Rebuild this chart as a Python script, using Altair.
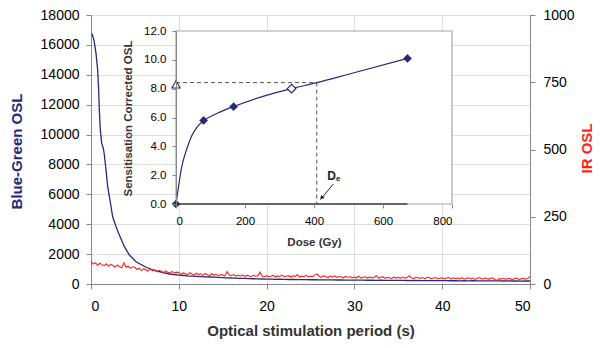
import altair as alt
import pandas as pd

# ---------------- data ----------------
# Blue-green OSL decay curve (left axis, counts)
blue_t = [0.1, 0.34, 0.57, 0.76, 0.87, 0.95, 1.06, 1.22, 1.40, 1.51, 1.71, 1.90, 2.16,
          2.47, 2.85, 3.23, 3.80, 4.37, 5.13, 6.27, 7.40, 8.92, 10.0, 10.5,
          11.0, 11.5, 12.0, 12.5, 13.0, 13.5, 14.0, 14.5, 15.0,
          15.5, 16.0, 16.5, 17.0, 17.5, 18.0, 18.5, 19.0, 19.5, 20.0,
          20.5, 21.0, 21.5, 22.0, 22.5, 23.0, 23.5, 24.0, 24.5, 25.0,
          25.5, 26.0, 26.5, 27.0, 27.5, 28.0, 28.5, 29.0, 29.5, 30.0,
          30.5, 31.0, 31.5, 32.0, 32.5, 33.0, 33.5, 34.0, 34.5, 35.0,
          35.5, 36.0, 36.5, 37.0, 37.5, 38.0, 38.5, 39.0, 39.5, 40.0,
          40.5, 41.0, 41.5, 42.0, 42.5, 43.0, 43.5, 44.0, 44.5, 45.0,
          45.5, 46.0, 46.5, 47.0, 47.5, 48.0, 48.5, 49.0, 49.5, 50.0]
blue_v = [16770, 16320, 15430, 14320, 12980, 11640, 10300, 9410, 9080, 8700, 7630, 6510, 5620,
          4500, 3830, 3280, 2500, 1940, 1490, 1120, 870, 670, 600, 570,
          545, 530, 515, 500, 480, 470, 455, 440, 430,
          415, 400, 395, 380, 370, 360, 350, 340, 335, 325,
          320, 315, 318, 305, 300, 305, 295, 290, 292, 285,
          288, 280, 275, 282, 270, 268, 275, 262, 265, 260,
          262, 255, 250, 258, 245, 250, 248, 240, 245, 238,
          242, 235, 230, 238, 228, 232, 225, 230, 222, 228,
          225, 218, 222, 215, 220, 212, 218, 210, 215, 208,
          212, 205, 210, 202, 208, 200, 205, 198, 203, 200]

# IR OSL (right axis), one reading every 0.25 s
red_v = [84, 74, 79, 70, 77, 72, 68, 75, 66, 73, 69, 63, 71, 64, 60, 79, 62, 66, 58, 64,
         61, 54, 59, 50, 57, 53, 48, 56, 49, 53, 45, 51, 47, 42, 49, 44, 40, 47, 41, 44,
         43, 36, 41, 38, 34, 42, 37, 33, 40, 35, 38, 32, 39, 34, 31, 38, 33, 36, 31, 35,
         33, 30, 46, 34, 31, 35, 29, 33, 30, 34, 28, 32, 30, 27, 33, 29, 31, 44, 29, 27,
         31, 27, 29, 32, 26, 30, 28, 33, 27, 29, 31, 26, 30, 28, 35, 26, 29, 27, 32, 26,
         29, 27, 33, 37, 28, 25, 31, 27, 24, 29, 26, 30, 25, 28, 26, 23, 28, 25, 27, 23,
         26, 23, 29, 22, 25, 27, 22, 26, 23, 25, 31, 22, 24, 27, 21, 25, 23, 20, 26, 22,
         25, 21, 26, 22, 24, 31, 22, 20, 25, 23, 21, 24, 20, 23, 25, 19, 22, 24, 20, 21,
         23, 19, 22, 25, 18, 23, 20, 22, 19, 24, 18, 21, 23, 19, 22, 17, 21, 24, 19, 20,
         22, 18, 20, 23, 17, 13, 20, 18, 22, 17, 21, 19, 17, 20, 22, 17, 19, 21, 18, 20,
         28]
red_t = [i * 0.25 for i in range(len(red_v))]

# Inset: dose-response (growth) curve
fit_dose = [0, 7, 16, 31, 45, 60, 82, 120, 166, 250, 335, 408, 500, 671]
fit_osl = [0, 1.15, 2.5, 3.8, 4.7, 5.3, 5.8, 6.3, 6.75, 7.45, 8.0, 8.42, 9.0, 10.1]
reg_dose = [0, 80, 167, 671]
reg_osl = [0, 5.8, 6.75, 10.1]
recycle_dose = [335]
recycle_osl = [8.0]
natural_dose = [0]
natural_osl = [8.3]
de_dose = 408
de_osl = 8.42

# ---------------- styling ----------------
W, H = 439, 269
FONT = "Liberation Sans"
NAVY = "#262a7a"
RED = "#ff1f1f"
AX = "#404040"
LBL = "#333333"

x_main = alt.Scale(domain=[0, 50], nice=False)
y_blue = alt.Scale(domain=[0, 18000], nice=False)
y_red = alt.Scale(domain=[0, 1000], nice=False)
x_in = alt.Scale(domain=[0, 800], range=[85, 361], nice=False)
y_in = alt.Scale(domain=[0, 12], range=[189, 16], nice=False)

df_blue = pd.DataFrame({"t": blue_t, "v": blue_v})
df_red = pd.DataFrame({"t": red_t, "v": red_v})

blue = alt.Chart(df_blue).mark_line(color=NAVY, strokeWidth=1.3).encode(
    x=alt.X("t:Q", scale=x_main, axis=alt.Axis(
        orient="bottom", values=[0, 10, 20, 30, 40, 50], labelFontSize=14,
        tickSize=5, labelPadding=10, title="Optical stimulation period (s)",
        titleFontSize=15, titleFontWeight="bold", titleColor=LBL,
        titleY=46, titleBaseline="middle")),
    y=alt.Y("v:Q", scale=y_blue, axis=alt.Axis(
        orient="left", values=list(range(0, 18001, 2000)), format="d",
        labelFontSize=14, tickSize=5, labelPadding=7,
        title="Blue-Green OSL", titleFontSize=15, titleFontWeight="bold",
        titleColor=NAVY, titleX=-75, titleY=136, titleAngle=270,
        titleBaseline="middle", titleAlign="center")),
)

red = alt.Chart(df_red).mark_line(color=RED, strokeWidth=1.1).encode(
    x=alt.X("t:Q", scale=x_main, axis=None),
    y=alt.Y("v:Q", scale=y_red, axis=alt.Axis(
        orient="right", values=[0, 250, 500, 750, 1000], format="d",
        labelFontSize=14, tickSize=5, labelPadding=8, title="IR OSL",
        titleFontSize=15, titleFontWeight="bold", titleColor=RED,
        titleX=56, titleY=133, titleAngle=270, titleBaseline="middle",
        titleAlign="center")),
)

# inset frame
df_frame = pd.DataFrame({"x0": [0], "x1": [800], "y0": [0], "y1": [12]})
frame = alt.Chart(df_frame).mark_rect(fill="white", stroke="#a6a6a6", strokeWidth=1.2).encode(
    x=alt.X("x0:Q", scale=x_in, axis=alt.Axis(
        orient="bottom", offset=-80, values=[0, 200, 400, 600, 800], domain=False,
        labelFontSize=11.5, tickSize=4, labelPadding=7, zindex=1,
        title="Dose (Gy)", titleFontSize=11.5, titleFontWeight="bold",
        titleColor=LBL, titleY=38, titleBaseline="middle")),
    x2="x1:Q",
    y=alt.Y("y0:Q", scale=y_in, axis=alt.Axis(
        orient="left", offset=-85, values=[0, 2, 4, 6, 8, 10, 12], format=".1f",
        labelFontSize=11.5, tickSize=4, labelPadding=6, zindex=1,
        title="Sensitisation Corrected OSL", titleFontSize=11.5,
        titleFontWeight="bold", titleColor=LBL, titleX=-48, titleY=103,
        titleAngle=270, titleBaseline="middle", titleAlign="center")),
    y2="y1:Q",
)

df_base = pd.DataFrame({"a": [0], "b": [671], "y": [0]})
base = alt.Chart(df_base).mark_rule(color=AX, strokeWidth=1.3).encode(
    x=alt.X("a:Q", scale=x_in, axis=None), x2="b:Q",
    y=alt.Y("y:Q", scale=y_in, axis=None),
)

df_dash = pd.DataFrame({"x": [0, de_dose], "x2": [de_dose, de_dose],
                        "y": [de_osl, de_osl], "y2": [de_osl, 0]})
dash = alt.Chart(df_dash).mark_rule(color="#555555", strokeWidth=1, strokeDash=[4, 3]).encode(
    x=alt.X("x:Q", scale=x_in, axis=None), x2="x2:Q",
    y=alt.Y("y:Q", scale=y_in, axis=None), y2="y2:Q",
)

df_fit = pd.DataFrame({"d": fit_dose, "o": fit_osl})
fit = alt.Chart(df_fit).mark_line(color=NAVY, strokeWidth=1.2, interpolate="monotone").encode(
    x=alt.X("d:Q", scale=x_in, axis=None),
    y=alt.Y("o:Q", scale=y_in, axis=None),
)

df_reg = pd.DataFrame({"d": reg_dose, "o": reg_osl})
reg = alt.Chart(df_reg).mark_point(shape="diamond", filled=True, color=NAVY, size=75, opacity=1).encode(
    x=alt.X("d:Q", scale=x_in, axis=None),
    y=alt.Y("o:Q", scale=y_in, axis=None),
)

df_rec = pd.DataFrame({"d": recycle_dose, "o": recycle_osl})
rec = alt.Chart(df_rec).mark_point(shape="diamond", filled=True, fill="white", stroke=NAVY,
                                   strokeWidth=1.2, size=75, opacity=1).encode(
    x=alt.X("d:Q", scale=x_in, axis=None),
    y=alt.Y("o:Q", scale=y_in, axis=None),
)

df_nat = pd.DataFrame({"d": natural_dose, "o": natural_osl})
nat = alt.Chart(df_nat).mark_point(shape="triangle-up", filled=True, fill="white", stroke=NAVY,
                                   strokeWidth=1.1, size=70, opacity=1).encode(
    x=alt.X("d:Q", scale=x_in, axis=None),
    y=alt.Y("o:Q", scale=y_in, axis=None),
)

# De annotation
df_arrow = pd.DataFrame({"x": [456], "x2": [419], "y": [1.39], "y2": [0.32]})
arrow = alt.Chart(df_arrow).mark_rule(color="#222222", strokeWidth=1).encode(
    x=alt.X("x:Q", scale=x_in, axis=None), x2="x2:Q",
    y=alt.Y("y:Q", scale=y_in, axis=None), y2="y2:Q",
)
df_head = pd.DataFrame({"x": [422], "y": [0.42]})
head = alt.Chart(df_head).mark_point(shape="triangle-up", filled=True, color="#222222",
                                     size=22, angle=219, opacity=1).encode(
    x=alt.X("x:Q", scale=x_in, axis=None),
    y=alt.Y("y:Q", scale=y_in, axis=None),
)
df_D = pd.DataFrame({"x": [451], "y": [1.94], "s": ["D"]})
txtD = alt.Chart(df_D).mark_text(font=FONT, fontSize=12, fontWeight="bold", color="#222222").encode(
    x=alt.X("x:Q", scale=x_in, axis=None),
    y=alt.Y("y:Q", scale=y_in, axis=None), text="s:N",
)
df_e = pd.DataFrame({"x": [470], "y": [1.72], "s": ["e"]})
txte = alt.Chart(df_e).mark_text(font=FONT, fontSize=8, fontWeight="bold", color="#222222").encode(
    x=alt.X("x:Q", scale=x_in, axis=None),
    y=alt.Y("y:Q", scale=y_in, axis=None), text="s:N",
)

chart = alt.layer(
    blue, red, frame, base, dash, fit, reg, rec, nat, arrow, head, txtD, txte
).resolve_scale(
    x="independent", y="independent"
).properties(
    width=W, height=H,
    padding={"left": 83, "top": 7, "right": 63, "bottom": 60},
    autosize=alt.AutoSizeParams(type="none"),
).configure_axis(
    labelFont=FONT, titleFont=FONT, labelColor=LBL, domainColor=AX,
    tickColor=AX, grid=False, domainWidth=1.2, tickWidth=1,
).configure_view(
    stroke="#a6a6a6", strokeWidth=1.5,
).configure(background="white")

chart.save("out.html", embed_options={"renderer": "svg", "actions": False})
